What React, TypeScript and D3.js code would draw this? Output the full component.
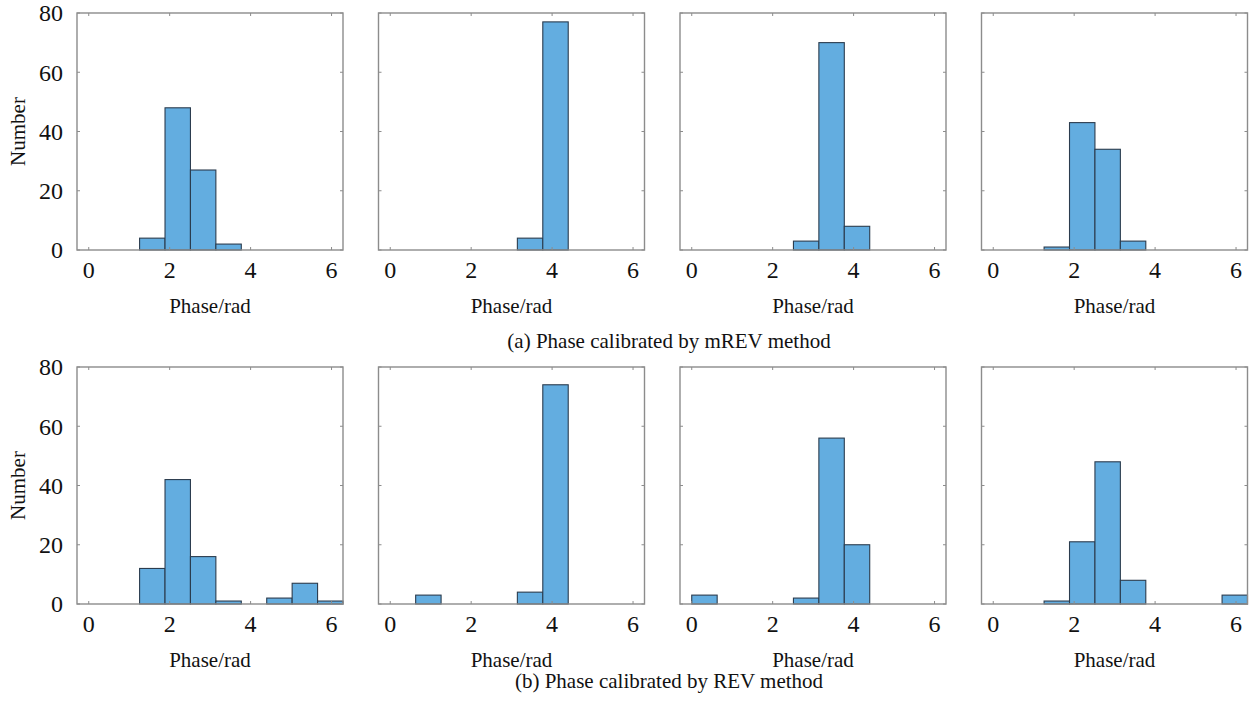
import * as d3 from 'd3';

// Histogram counts, 10 equal bins over [0, 2π]
const mrevCounts = [
  [0, 0, 4, 48, 27, 2, 0, 0, 0, 0],
  [0, 0, 0, 0, 0, 4, 77, 0, 0, 0],
  [0, 0, 0, 0, 3, 70, 8, 0, 0, 0],
  [0, 0, 1, 43, 34, 3, 0, 0, 0, 0],
];
const revCounts = [
  [0, 0, 12, 42, 16, 1, 0, 2, 7, 1],
  [0, 3, 0, 0, 0, 4, 74, 0, 0, 0],
  [3, 0, 0, 0, 2, 56, 20, 0, 0, 0],
  [0, 0, 1, 21, 48, 8, 0, 0, 0, 3],
];
const rows = [
  { counts: mrevCounts, caption: '(a) Phase calibrated by mREV method', captionY: 348 },
  { counts: revCounts, caption: '(b) Phase calibrated by REV method', captionY: 688 },
];
const xTicks = [0, 2, 4, 6];
const yTicks = [0, 20, 40, 60, 80];
const xLabel = 'Phase/rad';
const yLabel = 'Number';

const width = 1253;
const height = 704;
const panelLefts = [77, 378.5, 680, 981.5];
const panelW = 266;
const rowTops = [13, 367];
const panelH = 237;
const FONT = '"Liberation Serif", "Times New Roman", serif';
const binW = (2 * Math.PI) / 10;

function Panel({ counts, left, top, showY }: { counts: number[]; left: number; top: number; showY: boolean }) {
  const x = d3.scaleLinear().domain([-0.29, 2 * Math.PI]).range([left, left + panelW]);
  const y = d3.scaleLinear().domain([0, 80]).range([top + panelH, top]);
  const tk = 3;
  return (
    <g>
      {counts.map((c, i) =>
        c > 0 ? (
          <rect
            key={i}
            x={x(i * binW)}
            y={y(c)}
            width={x((i + 1) * binW) - x(i * binW)}
            height={y(0) - y(c)}
            fill="#63ade0"
            stroke="#2b3c4e"
            strokeWidth={1.1}
          />
        ) : null
      )}
      <rect x={left} y={top} width={panelW} height={panelH} fill="none" stroke="#8c8c8c" strokeWidth={1.4} />
      {xTicks.map((t) => (
        <g key={'x' + t}>
          <line x1={x(t)} x2={x(t)} y1={y(0)} y2={y(0) - tk} stroke="#8c8c8c" />
          <line x1={x(t)} x2={x(t)} y1={top} y2={top + tk} stroke="#8c8c8c" />
          <text x={x(t)} y={y(0) + 28} textAnchor="middle" fontSize={24} fontFamily={FONT} fill="#111">
            {t}
          </text>
        </g>
      ))}
      {yTicks.map((t) => (
        <g key={'y' + t}>
          <line x1={left} x2={left + tk} y1={y(t)} y2={y(t)} stroke="#8c8c8c" />
          <line x1={left + panelW} x2={left + panelW - tk} y1={y(t)} y2={y(t)} stroke="#8c8c8c" />
          {showY && (
            <text x={left - 14} y={y(t)} dy="0.35em" textAnchor="end" fontSize={24} fontFamily={FONT} fill="#111">
              {t}
            </text>
          )}
        </g>
      ))}
      <text x={left + panelW / 2} y={y(0) + 63} textAnchor="middle" fontSize={21} fontFamily={FONT} fill="#111">
        {xLabel}
      </text>
      {showY && (
        <text
          transform={`translate(${left - 59},${top + panelH / 2}) rotate(-90)`}
          dy="0.35em"
          textAnchor="middle"
          fontSize={21}
          fontFamily={FONT}
          fill="#111"
        >
          {yLabel}
        </text>
      )}
    </g>
  );
}

export default function App() {
  return (
    <svg width={width} height={height} style={{ position: 'absolute', left: 0, top: 0, background: '#fff' }}>
      {rows.map((row, r) => (
        <g key={r}>
          {row.counts.map((c, i) => (
            <Panel key={i} counts={c} left={panelLefts[i]} top={rowTops[r]} showY={i === 0} />
          ))}
          <text x={669} y={row.captionY} textAnchor="middle" fontSize={21} fontFamily={FONT} fill="#111">
            {row.caption}
          </text>
        </g>
      ))}
    </svg>
  );
}
